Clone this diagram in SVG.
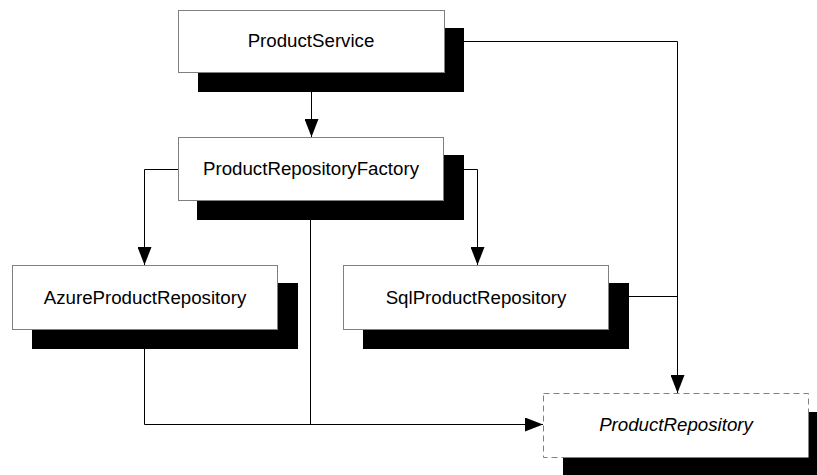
<svg xmlns="http://www.w3.org/2000/svg" width="817" height="475" viewBox="0 0 817 475">
<style>
.shadow{fill:#000}
.box{fill:#fff;stroke:#808080;stroke-width:1}
.dash{fill:#fff;stroke:#808080;stroke-width:1;stroke-dasharray:6,4}
.lbl{font-family:"Liberation Sans",Arial,sans-serif;font-size:18.7px;fill:#000;text-anchor:middle}
.conn{fill:none;stroke:#000;stroke-width:1}
</style>
<defs>
<marker id="arr" markerWidth="18" markerHeight="14" refX="18" refY="7" orient="auto" markerUnits="userSpaceOnUse">
<path d="M0,0 L18,7 L0,14 Z" fill="#000"/>
</marker>
</defs>
<rect width="817" height="475" fill="#fff"/>
<g id="connectors">
<path class="conn" d="M444,41.5 H677.5 V393" marker-end="url(#arr)"/>
<path class="conn" d="M311.5,92 V137" marker-end="url(#arr)"/>
<path class="conn" d="M178,169.5 H144.5 V265" marker-end="url(#arr)"/>
<path class="conn" d="M464,169.5 H477.5 V265" marker-end="url(#arr)"/>
<path class="conn" d="M629,296.5 H677.5"/>
<path class="conn" d="M310.5,220 V424.5"/>
<path class="conn" d="M144.5,349 V424.5 H543" marker-end="url(#arr)"/>
</g>
<g id="ProductService">
<rect class="shadow" x="198" y="28" width="266" height="64"/>
<rect class="box" x="178.5" y="10.5" width="266" height="62"/>
<text class="lbl" x="311" y="47">ProductService</text>
</g>
<g id="ProductRepositoryFactory">
<rect class="shadow" x="197" y="155" width="267" height="65"/>
<rect class="box" x="178.5" y="137.5" width="265" height="63"/>
<text class="lbl" x="311" y="175">ProductRepositoryFactory</text>
</g>
<g id="AzureProductRepository">
<rect class="shadow" x="32" y="283" width="266" height="66"/>
<rect class="box" x="12.5" y="265.5" width="265" height="64"/>
<text class="lbl" x="145" y="304">AzureProductRepository</text>
</g>
<g id="SqlProductRepository">
<rect class="shadow" x="363" y="283" width="266" height="66"/>
<rect class="box" x="343.5" y="265.5" width="265" height="64"/>
<text class="lbl" x="476" y="304">SqlProductRepository</text>
</g>
<g id="ProductRepository">
<rect class="shadow" x="563" y="412" width="266" height="66"/>
<rect class="dash" x="543.5" y="393.5" width="265" height="64"/>
<text class="lbl" x="676" y="431" font-style="italic">ProductRepository</text>
</g>
</svg>
